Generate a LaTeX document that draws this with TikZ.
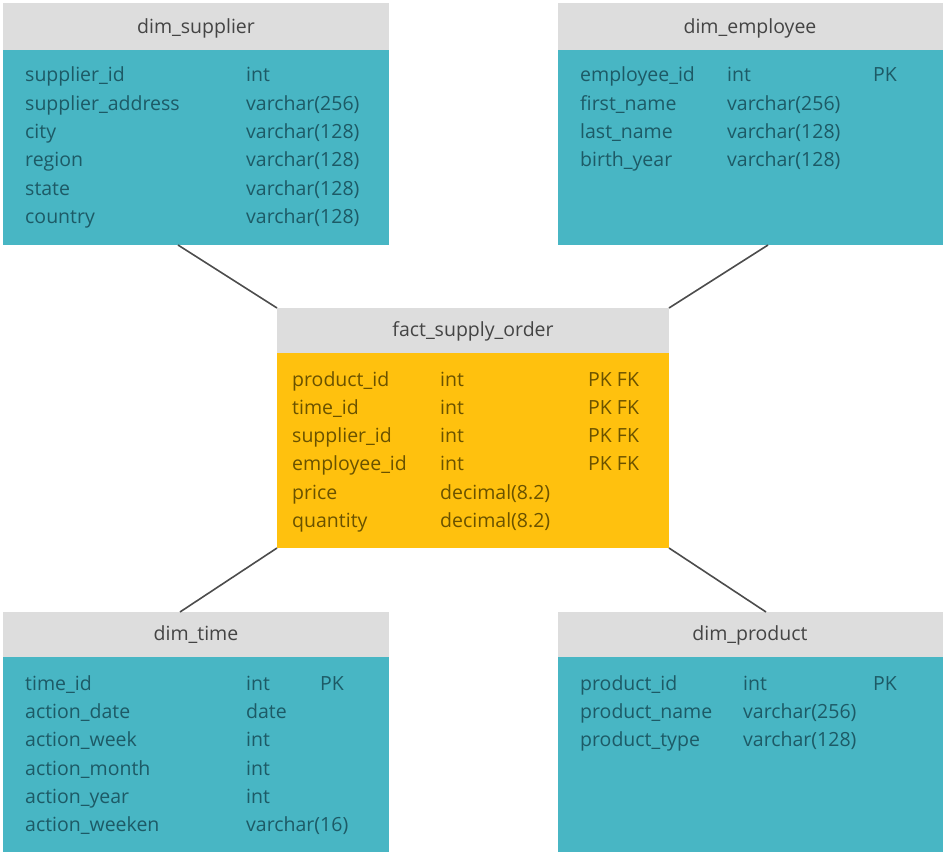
\documentclass[tikz,border=0pt]{standalone}
\usepackage{fontspec}
\setmainfont{Open Sans}
\definecolor{teal}{HTML}{48B6C4}
\definecolor{hdr}{HTML}{DDDDDD}
\definecolor{gold}{HTML}{FFC10E}
\definecolor{tealtxt}{HTML}{1D5A66}
\definecolor{goldtxt}{HTML}{6A5200}
\definecolor{hdrtxt}{HTML}{444444}
\tikzset{
  htext/.style={text=hdrtxt, anchor=base, inner sep=0pt, font=\fontsize{19.5}{22}\selectfont},
  ftext/.style={anchor=base west, text=tealtxt, font=\fontsize{19.5}{22}\selectfont, inner sep=0pt},
  gtext/.style={ftext, text=goldtxt},
  link/.style={draw=black!70, line width=1.6pt}
}
\begin{document}
\begin{tikzpicture}[x=1pt,y=-1pt]
\useasboundingbox (0,0) rectangle (944,852);
\fill[white] (0,0) rectangle (944,852);
% dim_supplier
\fill[hdr] (3,3) rectangle (389,50);
\fill[teal] (3,50) rectangle (389,245);
\node[htext] (sh) at (196,33) {dim\_supplier};
\coordinate (sup) at (178,245);
\node[ftext] (s1) at (25,81) {supplier\_id};
\node[ftext] (s1t) at (246,81) {int};
\node[ftext] (s2) at (25,110) {supplier\_address};
\node[ftext] (s2t) at (246,110) {varchar(256)};
\node[ftext] (s3) at (25,138) {city};
\node[ftext] (s3t) at (246,138) {varchar(128)};
\node[ftext] (s4) at (25,166) {region};
\node[ftext] (s4t) at (246,166) {varchar(128)};
\node[ftext] (s5) at (25,195) {state};
\node[ftext] (s5t) at (246,195) {varchar(128)};
\node[ftext] (s6) at (25,223) {country};
\node[ftext] (s6t) at (246,223) {varchar(128)};
% dim_employee
\fill[hdr] (558,3) rectangle (943,50);
\fill[teal] (558,50) rectangle (943,245);
\node[htext] (eh) at (750,33) {dim\_employee};
\coordinate (emp) at (768,245);
\node[ftext] (e1) at (580,81) {employee\_id};
\node[ftext] (e1t) at (727,81) {int};
\node[ftext] (e1k) at (873,81) {PK};
\node[ftext] (e2) at (580,110) {first\_name};
\node[ftext] (e2t) at (727,110) {varchar(256)};
\node[ftext] (e3) at (580,138) {last\_name};
\node[ftext] (e3t) at (727,138) {varchar(128)};
\node[ftext] (e4) at (580,166) {birth\_year};
\node[ftext] (e4t) at (727,166) {varchar(128)};
% fact
\fill[hdr] (277,308) rectangle (669,353);
\fill[gold] (277,353) rectangle (669,548);
\node[htext] (fh) at (473,336) {fact\_supply\_order};
\coordinate (ftl) at (277,308);
\coordinate (ftr) at (669,308);
\coordinate (fbl) at (277,548);
\coordinate (fbr) at (669,548);
\node[gtext] (f1) at (292,386) {product\_id};
\node[gtext] (f1t) at (440,386) {int};
\node[gtext] (f1k) at (588,386) {PK FK};
\node[gtext] (f2) at (292,414) {time\_id};
\node[gtext] (f2t) at (440,414) {int};
\node[gtext] (f2k) at (588,414) {PK FK};
\node[gtext] (f3) at (292,442) {supplier\_id};
\node[gtext] (f3t) at (440,442) {int};
\node[gtext] (f3k) at (588,442) {PK FK};
\node[gtext] (f4) at (292,470) {employee\_id};
\node[gtext] (f4t) at (440,470) {int};
\node[gtext] (f4k) at (588,470) {PK FK};
\node[gtext] (f5) at (292,499) {price};
\node[gtext] (f5t) at (440,499) {decimal(8.2)};
\node[gtext] (f6) at (292,527) {quantity};
\node[gtext] (f6t) at (440,527) {decimal(8.2)};
% dim_time
\fill[hdr] (3,612) rectangle (389,657);
\fill[teal] (3,657) rectangle (389,852);
\node[htext] (th) at (196,640) {dim\_time};
\coordinate (tim) at (180,612);
\node[ftext] (t1) at (25,690) {time\_id};
\node[ftext] (t1t) at (246,690) {int};
\node[ftext] (t1k) at (320,690) {PK};
\node[ftext] (t2) at (25,718) {action\_date};
\node[ftext] (t2t) at (246,718) {date};
\node[ftext] (t3) at (25,746) {action\_week};
\node[ftext] (t3t) at (246,746) {int};
\node[ftext] (t4) at (25,775) {action\_month};
\node[ftext] (t4t) at (246,775) {int};
\node[ftext] (t5) at (25,803) {action\_year};
\node[ftext] (t5t) at (246,803) {int};
\node[ftext] (t6) at (25,831) {action\_weeken};
\node[ftext] (t6t) at (246,831) {varchar(16)};
% dim_product
\fill[hdr] (558,612) rectangle (943,657);
\fill[teal] (558,657) rectangle (943,852);
\node[htext] (ph) at (750,640) {dim\_product};
\coordinate (pro) at (766,612);
\node[ftext] (p1) at (580,690) {product\_id};
\node[ftext] (p1t) at (743,690) {int};
\node[ftext] (p1k) at (873,690) {PK};
\node[ftext] (p2) at (580,718) {product\_name};
\node[ftext] (p2t) at (743,718) {varchar(256)};
\node[ftext] (p3) at (580,746) {product\_type};
\node[ftext] (p3t) at (743,746) {varchar(128)};
% links
\draw[link] (sup) -- (ftl);
\draw[link] (emp) -- (ftr);
\draw[link] (tim) -- (fbl);
\draw[link] (pro) -- (fbr);
\end{tikzpicture}
\end{document}
